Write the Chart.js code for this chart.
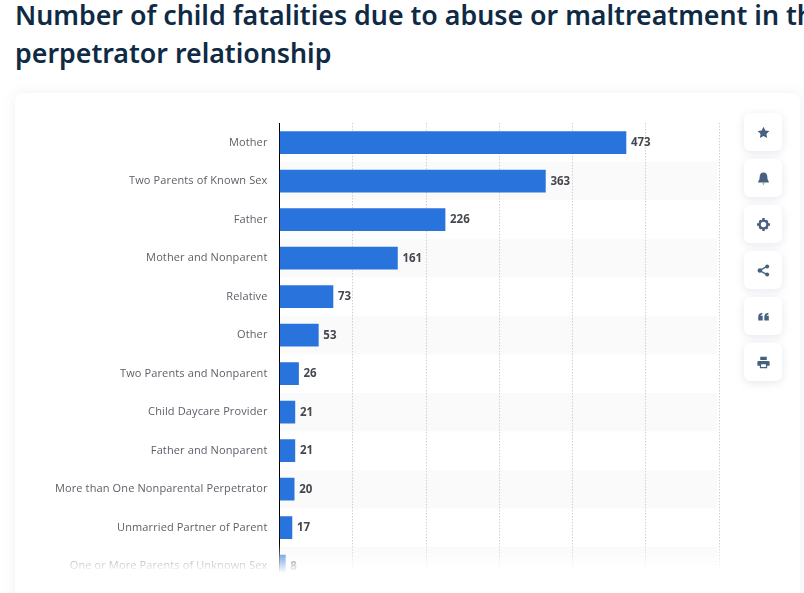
<!DOCTYPE html>
<html>
<head>
<meta charset="utf-8">
<script src="https://cdn.jsdelivr.net/npm/chart.js@4/dist/chart.umd.min.js"></script>
<style>
  html, body { margin: 0; padding: 0; width: 804px; height: 593px; overflow: hidden; background: #fff; font-family: "Noto Sans", sans-serif; }
  h1 { position: absolute; left: 15px; top: -4px; margin: 0; width: 900px; font-size: 26.75px; line-height: 38px; font-weight: 600; color: #0f2a45; white-space: nowrap; }
  .card { position: absolute; left: 15px; top: 93px; width: 785px; height: 520px; background: #fff; border-radius: 8px; box-shadow: 0 0 14px rgba(70, 90, 130, 0.09); }
  #chart-wrap { position: absolute; left: 15px; top: 93px; width: 785px; height: 511px; }
  .fade { position: absolute; left: 30px; top: 543px; width: 700px; height: 30px; background: linear-gradient(rgba(255,255,255,0), #fff); }
  .fade2 { position: absolute; left: 30px; top: 573px; width: 700px; height: 20px; background: #fff; }
  .btn { position: absolute; left: 744px; width: 38px; height: 38px; background: #fff; border-radius: 6px; box-shadow: 0 2px 8px rgba(70, 90, 130, 0.14); display: flex; align-items: center; justify-content: center; }
  .btn svg { width: 13px; height: 13px; fill: #46617f; }
</style>
</head>
<body>
<h1>Number of child fatalities due to abuse or maltreatment in the U.S. in 2021, by<br>perpetrator relationship</h1>
<div class="card"></div>
<div id="chart-wrap"><canvas id="chart"></canvas></div>
<div class="fade"></div>
<div class="fade2"></div>

<div class="btn" style="top:113px"><svg viewBox="0 0 16 16"><path d="M8 1l2.2 4.6 5 .7-3.6 3.5.9 5L8 12.4 3.500 14.800l.9-5L.8 6.300l5-.7z"/></svg></div>
<div class="btn" style="top:159px"><svg viewBox="0 0 16 16"><path d="M8 .5c3.200 0 4.700 2.400 4.700 5.300 0 3.200 1 4.700 1.800 5.700v1.300h-13v-1.300c.8-1 1.800-2.500 1.800-5.700C3.300 2.900 4.800.5 8 .5zM6.500 14.300h3L8 15.800z"/></svg></div>
<div class="btn" style="top:205px"><svg viewBox="0 0 16 16"><circle cx="8" cy="8" r="4.800" fill="none" stroke="#46617f" stroke-width="3"/><path d="M6.500 0h3v3h-3zM6.500 13h3v3h-3zM0 6.500h3v3H0zM13 6.500h3v3h-3zM2 4.100L4.100 2l2 2L4 6.100zM11.900 14L9.900 12 12 9.900l2 2zM2 11.900l2-2L6.100 12l-2 2zM9.900 4l2-2L14 4.100l-2 2z"/></svg></div>
<div class="btn" style="top:251px"><svg viewBox="0 0 16 16"><circle cx="3.500" cy="8" r="2.800"/><circle cx="12.500" cy="3" r="2.500"/><circle cx="12.500" cy="13" r="2.500"/><path d="M3 7.200l9-5 .8 1.400-9 5zM3.800 7.400l9 5-.8 1.400-9-5z"/></svg></div>
<div class="btn" style="top:297px"><svg viewBox="0 0 16 16"><path d="M1.500 8.500C1.500 5.500 3 4 6.500 3.500V5.500C5 5.700 4.500 6.300 4.300 7H7v6H1.500zM9 8.500C9 5.500 10.500 4 14 3.500V5.500c-1.500.2-2 .8-2.200 1.500h2.700v6H9z"/></svg></div>
<div class="btn" style="top:343px"><svg viewBox="0 0 16 16"><path fill-rule="evenodd" d="M4 1h8v4H4zM2 6h12a1.500 1.500 0 0 1 1.500 1.500V12H12.500v3h-9v-3H.5V7.500A1.500 1.500 0 0 1 2 6zM5 10v3.500h6V10z"/></svg></div>

<script>
const categories = [
  "Mother",
  "Two Parents of Known Sex",
  "Father",
  "Mother and Nonparent",
  "Relative",
  "Other",
  "Two Parents and Nonparent",
  "Child Daycare Provider",
  "Father and Nonparent",
  "More than One Nonparental Perpetrator",
  "Unmarried Partner of Parent",
  "One or More Parents of Unknown Sex"
];
const fatalities = [473, 363, 226, 161, 73, 53, 26, 21, 21, 20, 17, 8];
const xTicks = [0, 100, 200, 300, 400, 500, 600];

// alternating row bands behind the bars
const rowBands = {
  id: "rowBands",
  beforeDraw(chart) {
    const { ctx, chartArea, scales } = chart;
    const step = scales.y.getPixelForValue(1) - scales.y.getPixelForValue(0);
    ctx.save();
    ctx.fillStyle = "#fafafa";
    categories.forEach((c, i) => {
      if (i % 2 === 1) {
        ctx.fillRect(chartArea.left, scales.y.getPixelForValue(i) - step / 2, chartArea.width - 2, step);
      }
    });
    ctx.restore();
    // the tick labels in the original are spaced a little wider
    ctx.letterSpacing = "0.12px";
  }
};

// value at the end of each bar
const barValues = {
  id: "barValues",
  afterDatasetsDraw(chart) {
    const { ctx } = chart;
    ctx.save();
    ctx.font = "700 11.5px 'Open Sans'";
    ctx.letterSpacing = "0px";
    ctx.fillStyle = "#44484e";
    ctx.textBaseline = "middle";
    chart.getDatasetMeta(0).data.forEach((bar, i) => {
      ctx.fillText(String(fatalities[i]), bar.x + 5, bar.y + 0.5);
    });
    ctx.restore();
  }
};

new Chart(document.getElementById("chart"), {
  type: "bar",
  data: {
    labels: categories,
    datasets: [{
      data: fatalities,
      backgroundColor: "#2874dc",
      barThickness: 22
    }]
  },
  plugins: [rowBands, barValues],
  options: {
    indexAxis: "y",
    responsive: true,
    maintainAspectRatio: false,
    animation: false,
    layout: { padding: { top: 30.3, right: 81, bottom: 8.3, left: 0 } },
    plugins: { legend: { display: false }, tooltip: { enabled: false } },
    scales: {
      x: {
        min: 0,
        max: 600,
        afterBuildTicks(axis) { axis.ticks = xTicks.map((v) => ({ value: v })); },
        ticks: { display: false },
        border: { display: false, dash: [1, 2] },
        grid: { color: "#bcbcbc", lineWidth: 1, drawTicks: false }
      },
      y: {
        afterFit(axis) { axis.width = 264.5; },
        ticks: { color: "#5b5f66", font: { family: "Open Sans", size: 11 }, padding: 12, autoSkip: false },
        border: { color: "#000", width: 1 },
        grid: { display: false, drawTicks: false }
      }
    }
  }
});
</script>
</body>
</html>
